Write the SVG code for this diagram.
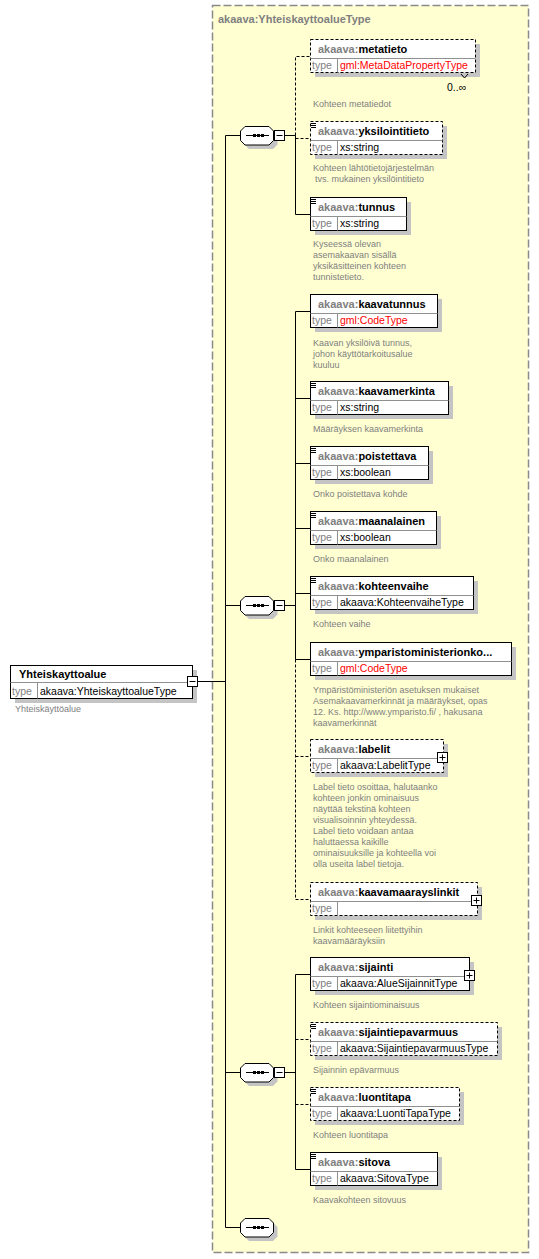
<svg xmlns="http://www.w3.org/2000/svg" width="539" height="1259" viewBox="0 0 539 1259">
<style>
.bg{fill:#fff}
.tbox{fill:#ffffd2;stroke:#8a8a8a;stroke-width:1.5;stroke-dasharray:8,3}
.box{fill:#fff;stroke:#000;stroke-width:1}
.dsh{stroke-dasharray:3,2}
.sh{fill:#c4c4c4}
.dv{stroke:#909090;stroke-width:1;fill:none}
.ln{stroke:#000;stroke-width:1;fill:none}
.hdr{font-family:"Liberation Sans",Arial,sans-serif;font-size:11px;font-weight:bold;fill:#000}
.pre{fill:#808080}
.tl{font-family:"Liberation Sans",Arial,sans-serif;font-size:10.5px;fill:#808080}
.val{font-family:"Liberation Sans",Arial,sans-serif;font-size:10.5px;fill:#000}
.red{fill:#ff0000}
.desc{font-family:"Liberation Sans",Arial,sans-serif;font-size:9px;fill:#808080}
.title{font-family:"Liberation Sans",Arial,sans-serif;font-size:11px;font-weight:bold;fill:#808080}
</style>
<defs>
<g id="oct">
<path class="sh" d="M4.5,9 L9,4.5 L33,4.5 L37.5,9 L37.5,18.5 L33,23 L9,23 L4.5,18.5 Z"/>
<path class="box" d="M0.5,5 L5,0.5 L29,0.5 L33.5,5 L33.5,14.5 L29,19 L5,19 L0.5,14.5 Z"/>
<path class="ln" d="M6,9.5 H29"/>
<rect x="13" y="8" width="3" height="3" fill="#000"/>
<rect x="17" y="8" width="3" height="3" fill="#000"/>
<rect x="21" y="8" width="3" height="3" fill="#000"/>
</g>
<g id="minus">
<rect class="box" x="0.5" y="0.5" width="10" height="10"/>
<path class="ln" d="M2.5,5.5 H8.5"/>
</g>
<g id="plus">
<rect class="box" x="0.5" y="0.5" width="10" height="10"/>
<path class="ln" d="M2.5,5.5 H8.5 M5.5,2.5 V8.5"/>
</g>
<path id="ico" class="ln" d="M311,2.5 H316 M311,4.5 H316 M311,6.5 H316"/>
</defs>
<rect class="bg" x="0" y="0" width="539" height="1259"/>

<g id="type-box">
<rect class="tbox" x="212.5" y="5.5" width="316" height="1247"/>
<text class="title" x="218" y="23">akaava:YhteiskayttoalueType</text>
</g>

<g id="connectors">
<path class="ln" d="M198,681.5 H225.5 M225.5,135.5 V1227.5 M225.5,135.5 H240 M225.5,605.5 H240 M225.5,1072.5 H240 M225.5,1227.5 H240"/>
<path class="ln" d="M284.5,135.5 H295.5 M295.5,135.5 V214.5 M295.5,214.5 H310"/>
<path class="ln dsh" d="M295.5,135.5 V56.5 H310 M295.5,138.5 H310"/>
<path class="ln" d="M284.5,605.5 H295.5 M295.5,311.5 V659.5 M295.5,311.5 H310 M295.5,398.5 H310 M295.5,463.5 H310 M295.5,528.5 H310 M295.5,593.5 H310 M295.5,659.5 H310"/>
<path class="ln dsh" d="M295.5,659.5 V899.5 M295.5,756.5 H310 M295.5,899.5 H310"/>
<path class="ln" d="M284.5,1072.5 H295.5 M295.5,974.5 V1169.5 M295.5,974.5 H310 M295.5,1169.5 H310"/>
<path class="ln dsh" d="M295.5,1039.5 H310 M295.5,1104.5 H310"/>
</g>

<g id="main">
<rect class="sh" x="15" y="670" width="182" height="33"/>
<rect class="box" x="10.5" y="665.5" width="182" height="33"/>
<path class="dv" d="M10.5,682.5 H192.5 M37.5,682.5 V698.5"/>
<text class="hdr" x="19" y="678">Yhteiskayttoalue</text>
<text class="tl" x="12" y="695">type</text>
<text class="val" x="40" y="695">akaava:YhteiskayttoalueType</text>
<use href="#minus" x="187" y="676"/>
<text class="desc" x="15" y="711.5">Yhteiskäyttöalue</text>
</g>

<g id="seq1"><use href="#oct" x="240" y="126"/><use href="#minus" x="274" y="130"/></g>
<g id="seq2"><use href="#oct" x="240" y="596"/><use href="#minus" x="274" y="600"/></g>
<g id="seq3"><use href="#oct" x="240" y="1063"/><use href="#minus" x="274" y="1067"/></g>
<g id="seq4"><use href="#oct" x="240" y="1218"/></g>

<g id="metatieto">
<rect class="sh" x="315" y="44" width="165" height="33"/>
<rect class="box dsh" x="310.5" y="39.5" width="165" height="33"/>
<path class="dv" d="M310.5,58.5 H475.5 M337.5,58.5 V72.5"/>
<path class="ln" d="M461,74 L464.5,78 L468,74"/>
<text class="hdr" x="318" y="53"><tspan class="pre">akaava:</tspan>metatieto</text>
<text class="tl" x="312" y="69">type</text>
<text class="val red" x="340" y="69">gml:MetaDataPropertyType</text>
<text class="val" x="447" y="91">0..∞</text>
<text class="desc" x="313" y="106.5">Kohteen metatiedot</text>
</g>

<g id="yksilointitieto">
<rect class="sh" x="315" y="126" width="132" height="33"/>
<rect class="box dsh" x="310.5" y="121.5" width="132" height="33"/>
<path class="dv" d="M310.5,140.5 H442.5 M337.5,140.5 V154.5"/>
<use href="#ico" y="121"/>
<text class="hdr" x="318" y="135"><tspan class="pre">akaava:</tspan>yksilointitieto</text>
<text class="tl" x="312" y="151">type</text>
<text class="val" x="340" y="151">xs:string</text>
<text class="desc" x="313" y="171">Kohteen lähtötietojärjestelmän<tspan x="315" dy="11">tvs. mukainen yksilöintitieto</tspan></text>
</g>

<g id="tunnus">
<rect class="sh" x="315" y="202" width="96" height="33"/>
<rect class="box" x="310.5" y="197.5" width="96" height="33"/>
<path class="dv" d="M310.5,216.5 H406.5 M337.5,216.5 V230.5"/>
<use href="#ico" y="197"/>
<text class="hdr" x="318" y="211"><tspan class="pre">akaava:</tspan>tunnus</text>
<text class="tl" x="312" y="227">type</text>
<text class="val" x="340" y="227">xs:string</text>
<text class="desc" x="313" y="246.5">Kyseessä olevan<tspan x="313" dy="11">asemakaavan sisällä</tspan><tspan x="313" dy="11">yksikäsitteinen kohteen</tspan><tspan x="313" dy="11">tunnistetieto.</tspan></text>
</g>

<g id="kaavatunnus">
<rect class="sh" x="315" y="299" width="127" height="33"/>
<rect class="box" x="310.5" y="294.5" width="127" height="33"/>
<path class="dv" d="M310.5,313.5 H437.5 M337.5,313.5 V327.5"/>
<text class="hdr" x="318" y="308"><tspan class="pre">akaava:</tspan>kaavatunnus</text>
<text class="tl" x="312" y="324">type</text>
<text class="val red" x="340" y="324">gml:CodeType</text>
<text class="desc" x="313" y="345.5">Kaavan yksilöivä tunnus,<tspan x="313" dy="11">johon käyttötarkoitusalue</tspan><tspan x="313" dy="11">kuuluu</tspan></text>
</g>

<g id="kaavamerkinta">
<rect class="sh" x="315" y="386" width="138" height="33"/>
<rect class="box" x="310.5" y="381.5" width="138" height="33"/>
<path class="dv" d="M310.5,400.5 H448.5 M337.5,400.5 V414.5"/>
<use href="#ico" y="381"/>
<text class="hdr" x="318" y="395"><tspan class="pre">akaava:</tspan>kaavamerkinta</text>
<text class="tl" x="312" y="411">type</text>
<text class="val" x="340" y="411">xs:string</text>
<text class="desc" x="313" y="431.5">Määräyksen kaavamerkinta</text>
</g>

<g id="poistettava">
<rect class="sh" x="315" y="451" width="118" height="33"/>
<rect class="box" x="310.5" y="446.5" width="118" height="33"/>
<path class="dv" d="M310.5,465.5 H428.5 M337.5,465.5 V479.5"/>
<use href="#ico" y="446"/>
<text class="hdr" x="318" y="460"><tspan class="pre">akaava:</tspan>poistettava</text>
<text class="tl" x="312" y="476">type</text>
<text class="val" x="340" y="476">xs:boolean</text>
<text class="desc" x="313" y="496.5">Onko poistettava kohde</text>
</g>

<g id="maanalainen">
<rect class="sh" x="315" y="516" width="126" height="33"/>
<rect class="box" x="310.5" y="511.5" width="126" height="33"/>
<path class="dv" d="M310.5,530.5 H436.5 M337.5,530.5 V544.5"/>
<use href="#ico" y="511"/>
<text class="hdr" x="318" y="525"><tspan class="pre">akaava:</tspan>maanalainen</text>
<text class="tl" x="312" y="541">type</text>
<text class="val" x="340" y="541">xs:boolean</text>
<text class="desc" x="313" y="561.5">Onko maanalainen</text>
</g>

<g id="kohteenvaihe">
<rect class="sh" x="315" y="581" width="163" height="33"/>
<rect class="box" x="310.5" y="576.5" width="163" height="33"/>
<path class="dv" d="M310.5,595.5 H473.5 M337.5,595.5 V609.5"/>
<use href="#ico" y="576"/>
<text class="hdr" x="318" y="590"><tspan class="pre">akaava:</tspan>kohteenvaihe</text>
<text class="tl" x="312" y="606">type</text>
<text class="val" x="340" y="606">akaava:KohteenvaiheType</text>
<text class="desc" x="313" y="626.5">Kohteen vaihe</text>
</g>

<g id="ymparistoministerionkaavamerkinta">
<rect class="sh" x="315" y="647" width="201" height="33"/>
<rect class="box" x="310.5" y="642.5" width="201" height="33"/>
<path class="dv" d="M310.5,661.5 H511.5 M337.5,661.5 V675.5"/>
<text class="hdr" x="318" y="656"><tspan class="pre">akaava:</tspan>ymparistoministerionko...</text>
<text class="tl" x="312" y="672">type</text>
<text class="val red" x="340" y="672">gml:CodeType</text>
<text class="desc" x="313" y="693">Ympäristöministeriön asetuksen mukaiset<tspan x="313" dy="11">Asemakaavamerkinnät ja määräykset, opas</tspan><tspan x="313" dy="11">12. Ks. http://www.ymparisto.fi/ , hakusana</tspan><tspan x="313" dy="11">kaavamerkinnät</tspan></text>
</g>

<g id="labelit">
<rect class="sh" x="315" y="744" width="133" height="33"/>
<rect class="box dsh" x="310.5" y="739.5" width="133" height="33"/>
<path class="dv" d="M310.5,758.5 H443.5 M337.5,758.5 V772.5"/>
<text class="hdr" x="318" y="753"><tspan class="pre">akaava:</tspan>labelit</text>
<text class="tl" x="312" y="769">type</text>
<text class="val" x="340" y="769">akaava:LabelitType</text>
<use href="#plus" x="437" y="752"/>
<text class="desc" x="313" y="790">Label tieto osoittaa, halutaanko<tspan x="313" dy="11">kohteen jonkin ominaisuus</tspan><tspan x="313" dy="11">näyttää tekstinä kohteen</tspan><tspan x="313" dy="11">visualisoinnin yhteydessä.</tspan><tspan x="313" dy="11">Label tieto voidaan antaa</tspan><tspan x="313" dy="11">haluttaessa kaikille</tspan><tspan x="313" dy="11">ominaisuuksille ja kohteella voi</tspan><tspan x="313" dy="11">olla useita label tietoja.</tspan></text>
</g>

<g id="kaavamaaraysliinkit">
<rect class="sh" x="315" y="887" width="167" height="33"/>
<rect class="box dsh" x="310.5" y="882.5" width="167" height="33"/>
<path class="dv" d="M310.5,901.5 H477.5 M337.5,901.5 V915.5"/>
<text class="hdr" x="318" y="896"><tspan class="pre">akaava:</tspan>kaavamaarayslinkit</text>
<text class="tl" x="312" y="912">type</text>
<use href="#plus" x="471" y="895"/>
<text class="desc" x="313" y="932.5">Linkit kohteeseen liitettyihin<tspan x="313" dy="11">kaavamääräyksiin</tspan></text>
</g>

<g id="sijainti">
<rect class="sh" x="315" y="962" width="159" height="33"/>
<rect class="box" x="310.5" y="957.5" width="159" height="33"/>
<path class="dv" d="M310.5,976.5 H469.5 M337.5,976.5 V990.5"/>
<text class="hdr" x="318" y="971"><tspan class="pre">akaava:</tspan>sijainti</text>
<text class="tl" x="312" y="987">type</text>
<text class="val" x="340" y="987">akaava:AlueSijainnitType</text>
<use href="#plus" x="464" y="970"/>
<text class="desc" x="313" y="1007.5">Kohteen sijaintiominaisuus</text>
</g>

<g id="sijaintiepavarmuus">
<rect class="sh" x="315" y="1027" width="187" height="33"/>
<rect class="box dsh" x="310.5" y="1022.5" width="187" height="33"/>
<path class="dv" d="M310.5,1041.5 H497.5 M337.5,1041.5 V1055.5"/>
<use href="#ico" y="1022"/>
<text class="hdr" x="318" y="1036"><tspan class="pre">akaava:</tspan>sijaintiepavarmuus</text>
<text class="tl" x="312" y="1052">type</text>
<text class="val" x="340" y="1052">akaava:SijaintiepavarmuusType</text>
<text class="desc" x="313" y="1072.5">Sijainnin epävarmuus</text>
</g>

<g id="luontitapa">
<rect class="sh" x="315" y="1092" width="149" height="33"/>
<rect class="box dsh" x="310.5" y="1087.5" width="149" height="33"/>
<path class="dv" d="M310.5,1106.5 H459.5 M337.5,1106.5 V1120.5"/>
<use href="#ico" y="1087"/>
<text class="hdr" x="318" y="1101"><tspan class="pre">akaava:</tspan>luontitapa</text>
<text class="tl" x="312" y="1117">type</text>
<text class="val" x="340" y="1117">akaava:LuontiTapaType</text>
<text class="desc" x="313" y="1137.5">Kohteen luontitapa</text>
</g>

<g id="sitova">
<rect class="sh" x="315" y="1157" width="127" height="33"/>
<rect class="box" x="310.5" y="1152.5" width="127" height="33"/>
<path class="dv" d="M310.5,1171.5 H437.5 M337.5,1171.5 V1185.5"/>
<use href="#ico" y="1152"/>
<text class="hdr" x="318" y="1166"><tspan class="pre">akaava:</tspan>sitova</text>
<text class="tl" x="312" y="1182">type</text>
<text class="val" x="340" y="1182">akaava:SitovaType</text>
<text class="desc" x="313" y="1202.5">Kaavakohteen sitovuus</text>
</g>
</svg>
